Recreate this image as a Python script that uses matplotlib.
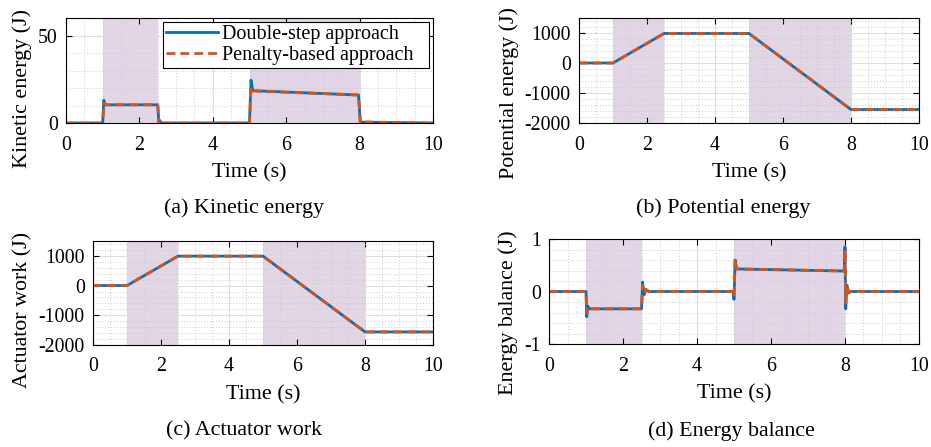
import matplotlib
matplotlib.use("Agg")
import matplotlib.pyplot as plt
from matplotlib.ticker import MultipleLocator

plt.rcParams['font.family'] = ['Liberation Serif', 'DejaVu Serif']
plt.rcParams['font.size'] = 14.3
plt.rcParams['axes.unicode_minus'] = False

# --- data ---
phases = [(1.0, 2.5), (5.0, 8.0)]

t_ke = [0, 1.0, 1.03, 1.07, 2.5, 2.53, 2.56, 2.6, 5.0, 5.04, 5.09, 7.97, 8.02, 8.06, 10]
ke_double = [0, 0, 13, 10.4, 10.4, 0, 1.0, 0, 0, 24.5, 18.5, 16.0, 0, 0.5, 0]
ke_penalty = [0, 0, 11.5, 10.4, 10.4, 0, 1.5, 0, 0, 20.5, 18.3, 16.0, 0, 0.6, 0]

t_pe = [0, 1.0, 2.5, 5.0, 8.0, 10]
pe_double = [0, 0, 985, 985, -1550, -1550]
pe_penalty = [0, 0, 985, 985, -1550, -1550]

t_aw = [0, 1.0, 2.5, 5.0, 8.0, 10]
aw_double = [0, 0, 990, 990, -1560, -1560]
aw_penalty = [0, 0, 990, 990, -1560, -1560]

t_eb = [0, 1.0, 1.02, 1.05, 1.08, 2.5, 2.53, 2.57, 2.62, 2.7, 4.98, 5.0, 5.03, 5.07,
        7.98, 8.0, 8.02, 8.05, 8.1, 8.15, 10]
eb_double = [0, 0, -0.48, -0.28, -0.33, -0.33, 0.18, -0.06, 0.04, 0, 0, -0.15, 0.6, 0.43,
             0.39, 0.85, -0.33, 0.12, -0.03, 0, 0]
eb_penalty = [0, 0, -0.42, -0.3, -0.33, -0.33, 0.12, -0.04, 0.03, 0, 0, -0.1, 0.62, 0.43,
              0.39, 0.8, -0.22, 0.12, -0.02, 0, 0]

blue = '#0072BD'
orange = '#D95319'
shade = (0.43, 0.2, 0.51)
big = 15.8

fig = plt.figure(figsize=(9.31, 4.47), dpi=100)

panels = [
    # position, t, double, penalty, ylim, ymajor, yminor, ylabel, ylabel pos, caption, caption pos
    ([0.0709, 0.7248, 0.3942, 0.2349], t_ke, ke_double, ke_penalty, (0, 60), 50, 10,
     'Kinetic energy (J)', (-0.1185, 0.333), '(a) Kinetic energy', (0.262, 0.535)),
    ([0.6219, 0.7248, 0.3652, 0.2349], t_pe, pe_double, pe_penalty, (-2000, 1500), 1000, 200,
     'Potential energy (J)', (-0.204, 0.288), '(b) Potential energy', (0.777, 0.535)),
    ([0.0999, 0.2282, 0.3652, 0.2327], t_aw, aw_double, aw_penalty, (-2000, 1500), 1000, 200,
     'Actuator work (J)', (-0.206, 0.337), '(c) Actuator work', (0.262, 0.036)),
    ([0.5897, 0.2304, 0.3974, 0.2349], t_eb, eb_double, eb_penalty, (-1, 1), 1, 0.2,
     'Energy balance (J)', (-0.111, 0.30), '(d) Energy balance', (0.786, 0.036)),
]

for i, (pos, t, yd, yp, ylim, ymaj, ymin, ylab, lpos, cap, cpos) in enumerate(panels):
    ax = fig.add_axes(pos)
    for a, b in phases:
        ax.axvspan(a, b, color=shade, alpha=0.2, lw=0, zorder=0)
    ax.plot(t, yd, color=blue, lw=2.0, label='Double-step approach', zorder=3)
    ax.plot(t, yp, color=orange, lw=2.0, ls=(0, (3.2, 1.8)), label='Penalty-based approach', zorder=4)
    ax.set_xlim(0, 10)
    ax.set_ylim(*ylim)
    ax.xaxis.set_major_locator(MultipleLocator(2))
    ax.xaxis.set_minor_locator(MultipleLocator(0.5))
    ax.yaxis.set_major_locator(MultipleLocator(ymaj))
    ax.yaxis.set_minor_locator(MultipleLocator(ymin))
    ax.grid(which='major', color='#dedede', lw=0.8, zorder=1)
    ax.grid(which='minor', color='#cccccc', lw=0.7, ls=(0, (1, 2)), zorder=1)
    ax.set_axisbelow(True)
    ax.tick_params(which='major', direction='in', length=4, top=True, right=True)
    ax.tick_params(axis='x', pad=9)
    ax.tick_params(axis='y', pad=6)
    ax.tick_params(which='minor', length=0)
    for s in ax.spines.values():
        s.set_linewidth(0.8)
        s.set_zorder(5)
    ax.set_xlabel('Time (s)', fontsize=big, labelpad=6)
    ax.set_ylabel(ylab, fontsize=big, va='center')
    ax.yaxis.set_label_coords(*lpos)
    fig.text(cpos[0], cpos[1], cap, ha='center', va='center', fontsize=big)
    if i == 0:
        leg = ax.legend(loc='upper left', bbox_to_anchor=(0.264, 0.0, 0.726, 0.962), mode='expand',
                        frameon=True, fancybox=False, framealpha=1,
                        edgecolor='black', fontsize=14.5, borderpad=0.15, labelspacing=0.1,
                        handlelength=2.6, handletextpad=0.2, borderaxespad=0.0)
        leg.get_frame().set_linewidth(0.8)

fig.savefig('out.png', dpi=100)
